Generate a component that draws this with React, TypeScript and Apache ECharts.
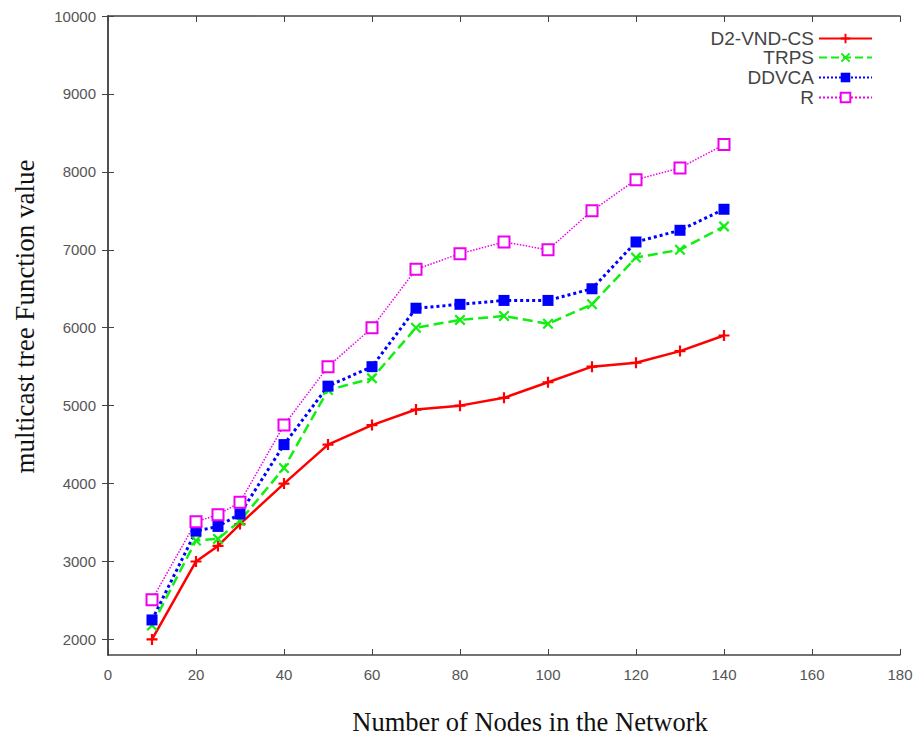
import React, { useEffect, useRef } from "react";
import * as echarts from "echarts";

const nodes = [10, 20, 25, 30, 40, 50, 60, 70, 80, 90, 100, 110, 120, 130, 140];
const d2vndcs = [2000, 3000, 3200, 3480, 4000, 4500, 4750, 4950, 5000, 5100, 5300, 5500, 5550, 5700, 5900];
const trps = [2180, 3270, 3290, 3520, 4200, 5200, 5350, 6000, 6100, 6150, 6050, 6300, 6900, 7000, 7300];
const ddvca = [2250, 3390, 3450, 3610, 4500, 5250, 5500, 6250, 6300, 6350, 6350, 6500, 7100, 7250, 7520];
const rVals = [2510, 3510, 3600, 3760, 4750, 5500, 6000, 6750, 6950, 7100, 7000, 7500, 7900, 8050, 8350];
const yTicks = [2000, 3000, 4000, 5000, 6000, 7000, 8000, 9000, 10000];

const plusPath = "path://M4,0h2v4h4v2h-4v4h-2v-4h-4v-2h4z";
const crossPath = "path://M1.4,0L5,3.6L8.6,0L10,1.4L6.4,5L10,8.6L8.6,10L5,6.4L1.4,10L0,8.6L3.6,5L0,1.4z";

export default function App() {
  const ref = useRef<HTMLDivElement>(null);
  useEffect(() => {
    document.body.style.margin = "0";
    const chart = echarts.init(ref.current!, null, { renderer: "svg" });
    const axisColor = "#444";
    const mk = (arr: number[]) => nodes.map((x, i) => [x, arr[i]]);
    const series = [
      { name: "D2-VND-CS", data: mk(d2vndcs), color: "#ff0000", type: "solid", width: 2.5, symbol: plusPath, size: 11 },
      { name: "TRPS", data: mk(trps), color: "#11ee11", type: "dashed", width: 2.5, symbol: crossPath, size: 11 },
      { name: "DDVCA", data: mk(ddvca), color: "#0000ff", type: "dotted", width: 3, symbol: "rect", size: 11 },
      { name: "R", data: mk(rVals), color: "#ee00ee", type: "dotted", width: 1.5, symbol: "emptyRect", size: 11 },
    ];
    const legendTops = [24, 43, 63, 83];
    chart.setOption({
      animation: false,
      backgroundColor: "#fff",
      grid: { left: 108, top: 16, right: 22, bottom: 83, show: false },
      legend: series.map((s, i) => ({
        data: [s.name],
        right: 44,
        top: legendTops[i],
        align: "right",
        itemWidth: 53,
        itemHeight: 12,
        itemGap: 10,
        textStyle: { fontFamily: "Liberation Sans", fontSize: 19, color: "#444" },
        selectedMode: false,
      })),
      xAxis: [
        {
          type: "value", min: 0, max: 180, interval: 20,
          name: "Number of Nodes in the Network", nameLocation: "middle", nameGap: 53,
          nameTextStyle: { fontFamily: "Liberation Serif", fontSize: 26.5, color: "#111", padding: [0, 0, 0, 52] },
          axisLine: { show: true, lineStyle: { color: axisColor, width: 1.5 } },
          axisTick: { show: true, inside: true, length: 6, lineStyle: { color: axisColor } },
          axisLabel: { margin: 12, fontFamily: "Liberation Sans", fontSize: 15, color: "#555" },
          splitLine: { show: false },
        },
        {
          type: "value", min: 0, max: 180, interval: 20, position: "top",
          axisLine: { show: true, lineStyle: { color: axisColor, width: 1.5 } },
          axisTick: { show: true, inside: true, length: 6, lineStyle: { color: axisColor } },
          axisLabel: { show: false },
          splitLine: { show: false },
        },
      ],
      yAxis: [
        {
          type: "value", min: 1800, max: 10000,
          name: "multicast tree Function value", nameLocation: "middle", nameGap: 70,
          nameTextStyle: { fontFamily: "Liberation Serif", fontSize: 27, color: "#111", padding: [0, 0, 0, 38] },
          axisLine: { show: true, lineStyle: { color: axisColor, width: 1.5 } },
          axisTick: { show: true, inside: true, length: 6, customValues: yTicks, lineStyle: { color: axisColor } },
          axisLabel: { margin: 12, customValues: yTicks, formatter: (v: number) => String(v), fontFamily: "Liberation Sans", fontSize: 15, color: "#555" },
          splitLine: { show: false },
        },
        {
          type: "value", min: 1800, max: 10000, position: "right",
          axisLine: { show: true, lineStyle: { color: axisColor, width: 1.5 } },
          axisTick: { show: true, inside: true, length: 6, customValues: yTicks, lineStyle: { color: axisColor } },
          axisLabel: { show: false },
          splitLine: { show: false },
        },
      ],
      series: series.map((s) => ({
        name: s.name,
        type: "line",
        xAxisIndex: 0,
        yAxisIndex: 0,
        data: s.data,
        symbol: s.symbol,
        symbolSize: s.size,
        showAllSymbol: true,
        color: s.color,
        lineStyle: { color: s.color, width: s.width, type: s.type },
        itemStyle: { color: s.color, borderColor: s.color, borderWidth: s.symbol === "emptyRect" ? 2 : 0 },
      })),
    });
    return () => chart.dispose();
  }, []);
  return <div ref={ref} style={{ width: 922, height: 740 }} />;
}
